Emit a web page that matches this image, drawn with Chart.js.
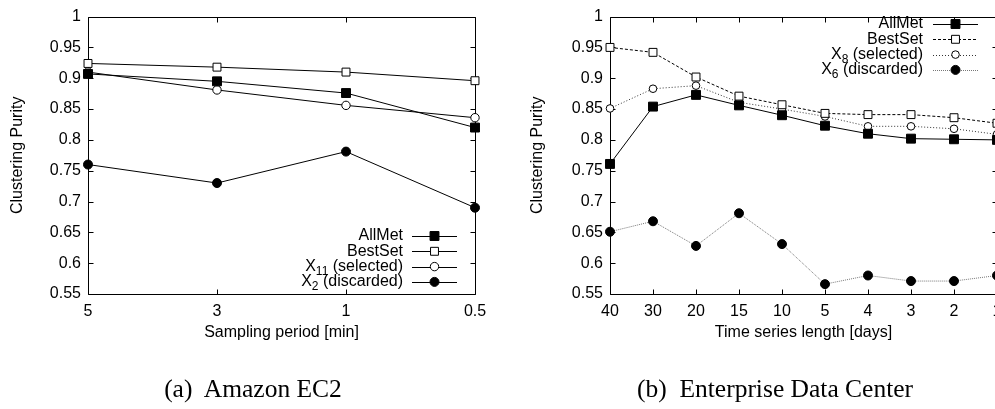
<!DOCTYPE html>
<html>
<head>
<meta charset="utf-8">
<script src="https://cdn.jsdelivr.net/npm/chart.js@4.4.1/dist/chart.umd.min.js"></script>
<style>
  html, body { margin: 0; padding: 0; background: #fff; width: 995px; height: 409px; overflow: hidden; }
  body { position: relative; }
  canvas { position: absolute; top: 0; }
  .cap { position: absolute; top: 376px; width: 400px; text-align: center; font: 25.5px/1 "Liberation Serif", "Times New Roman", serif; color: #000; }
</style>
</head>
<body>
<canvas id="ec2" width="495" height="409" style="left:0"></canvas>
<canvas id="edc" width="520" height="409" style="left:495px"></canvas>
<div class="cap" style="left:53px">(a)&nbsp; Amazon EC2</div>
<div class="cap" style="left:575px">(b)&nbsp; Enterprise Data Center</div>
<script>
  // (a) Amazon EC2
  const periodLabels = ['5', '3', '1', '0.5'];
  const ec2AllMet = [0.907, 0.895, 0.876, 0.820];
  const ec2BestSet = [0.924, 0.918, 0.910, 0.896];
  const ec2X11 = [0.910, 0.881, 0.856, 0.836];
  const ec2X2 = [0.760, 0.730, 0.781, 0.690];

  // (b) Enterprise Data Center
  const lengthLabels = ['40', '30', '20', '15', '10', '5', '4', '3', '2', '1'];
  const edcAllMet = [0.761, 0.854, 0.873, 0.856, 0.840, 0.823, 0.810, 0.802, 0.801, 0.800];
  const edcBestSet = [0.950, 0.942, 0.902, 0.871, 0.857, 0.843, 0.841, 0.841, 0.836, 0.827];
  const edcX8 = [0.851, 0.883, 0.888, 0.861, 0.850, 0.838, 0.822, 0.822, 0.818, 0.809];
  const edcX6 = [0.651, 0.668, 0.628, 0.681, 0.631, 0.566, 0.580, 0.571, 0.571, 0.580];

  const yTitle = 'Clustering Purity';

  const FONT = '"Liberation Sans", Arial, sans-serif';
  Chart.defaults.font.family = FONT;
  Chart.defaults.font.size = 16;
  Chart.defaults.color = '#000';

  // gnuplot style frame with inward ticks on all four sides
  const frame = {
    id: 'frame',
    beforeDatasetsDraw(chart) {
      const { ctx, chartArea: a, scales: { x, y } } = chart;
      ctx.save();
      ctx.strokeStyle = '#000';
      ctx.lineWidth = 1;
      ctx.beginPath();
      const L = Math.round(a.left) + 0.5, R = Math.round(a.right) + 0.5;
      const T = Math.round(a.top) + 0.5, B = Math.round(a.bottom) + 0.5;
      ctx.rect(L, T, R - L, B - T);
      y.ticks.forEach(t => {
        const py = Math.round(y.getPixelForValue(t.value)) + 0.5;
        ctx.moveTo(L, py); ctx.lineTo(L + 5, py);
        ctx.moveTo(R, py); ctx.lineTo(R - 5, py);
      });
      x.ticks.forEach((t, i) => {
        const px = Math.round(x.getPixelForTick(i)) + 0.5;
        ctx.moveTo(px, B); ctx.lineTo(px, B - 5);
        ctx.moveTo(px, T); ctx.lineTo(px, T + 5);
      });
      ctx.stroke();
      ctx.restore();
    }
  };

  function marker(ctx, ds, x, y) {
    ctx.setLineDash([]);
    ctx.lineWidth = 1;
    ctx.strokeStyle = ds.pointBorderColor;
    ctx.fillStyle = ds.pointBackgroundColor;
    ctx.beginPath();
    if (ds.pointStyle === 'rect') {
      const s = ds.pointRadius * Math.SQRT1_2;
      ctx.rect(x - s, y - s, 2 * s, 2 * s);
    } else {
      ctx.arc(x, y, ds.pointRadius, 0, Math.PI * 2);
    }
    ctx.fill();
    ctx.stroke();
  }

  // right aligned key with line sample, like gnuplot
  const key = {
    id: 'key',
    afterDraw(chart, args, o) {
      const ctx = chart.ctx;
      ctx.save();
      chart.data.datasets.forEach((ds, i) => {
        const y = o.y + i * o.dy;
        const [main, sub, rest] = ds.parts;
        ctx.textBaseline = 'middle';
        ctx.fillStyle = '#000';
        ctx.font = '16px ' + FONT;
        const wm = ctx.measureText(main).width;
        const wr = ctx.measureText(rest).width;
        ctx.font = '12px ' + FONT;
        const ws = sub ? ctx.measureText(sub).width : 0;
        let x = o.textRight - wm - ws - wr;
        ctx.font = '16px ' + FONT;
        ctx.fillText(main, x, y);
        x += wm;
        if (sub) {
          ctx.font = '12px ' + FONT;
          ctx.fillText(sub, x, y + 5);
          x += ws;
        }
        ctx.font = '16px ' + FONT;
        ctx.fillText(rest, x, y);
        ctx.strokeStyle = ds.borderColor;
        ctx.lineWidth = 1;
        ctx.setLineDash(ds.borderDash || []);
        ctx.beginPath();
        ctx.moveTo(o.lineFrom, Math.round(y) + 0.5);
        ctx.lineTo(o.lineTo, Math.round(y) + 0.5);
        ctx.stroke();
        marker(ctx, ds, (o.lineFrom + o.lineTo) / 2, y);
      });
      ctx.restore();
    }
  };

  function series(parts, data, style) {
    return Object.assign({
      parts: parts,
      label: parts.join(''),
      data: data,
      borderColor: '#000',
      borderWidth: 1,
      pointBorderWidth: 1,
      pointBorderColor: '#000',
      pointHoverRadius: 0,
      clip: false,
      tension: 0
    }, style);
  }

  const filledSquare = { pointStyle: 'rect', pointRadius: 6.3, pointBackgroundColor: '#000' };
  const openSquare = { pointStyle: 'rect', pointRadius: 5.6, pointBackgroundColor: '#fff' };
  const openCircle = { pointStyle: 'circle', pointRadius: 4.2, pointBackgroundColor: '#fff' };
  const filledCircle = { pointStyle: 'circle', pointRadius: 4.5, pointBackgroundColor: '#000' };

  function options(yWidth, titlePad, pad, xTitle, keyOpts) {
    return {
      responsive: false,
      animation: false,
      events: [],
      devicePixelRatio: 1,
      layout: { padding: pad },
      plugins: { legend: { display: false }, tooltip: { enabled: false }, key: keyOpts },
      scales: {
        x: {
          grid: { display: false, drawTicks: false },
          border: { display: false },
          ticks: { padding: 8, maxRotation: 0, autoSkip: false },
          title: { display: true, text: xTitle, padding: { top: 0, bottom: 2 } },
          afterFit: s => { s.height = 50; }
        },
        y: {
          min: 0.55,
          max: 1,
          grid: { display: false, drawTicks: false },
          border: { display: false },
          ticks: { stepSize: 0.05, padding: 7, callback: v => String(+v.toFixed(2)) },
          title: { display: true, text: yTitle, padding: { top: titlePad, bottom: 0 } },
          afterFit: s => { s.width = yWidth; }
        }
      }
    };
  }

  new Chart(document.getElementById('ec2'), {
    type: 'line',
    data: {
      labels: periodLabels,
      datasets: [
        series(['AllMet', '', ''], ec2AllMet, filledSquare),
        series(['BestSet', '', ''], ec2BestSet, openSquare),
        series(['X', '11', ' (selected)'], ec2X11, openCircle),
        series(['X', '2', ' (discarded)'], ec2X2, filledCircle)
      ]
    },
    options: options(88, 8, { left: 0, right: 20, top: 13, bottom: 65 }, 'Sampling period [min]',
      { textRight: 403, lineFrom: 412, lineTo: 457, y: 236, dy: 15.3 }),
    plugins: [frame, key]
  });

  new Chart(document.getElementById('edc'), {
    type: 'line',
    data: {
      labels: lengthLabels,
      datasets: [
        series(['AllMet', '', ''], edcAllMet, filledSquare),
        series(['BestSet', '', ''], edcBestSet, Object.assign({ borderDash: [3, 2] }, openSquare)),
        series(['X', '8', ' (selected)'], edcX8, Object.assign({ borderDash: [1, 2], borderColor: '#333' }, openCircle, { pointRadius: 3.8 })),
        series(['X', '6', ' (discarded)'], edcX6, Object.assign({ borderDash: [1, 1], borderColor: '#777' }, filledCircle))
      ]
    },
    options: options(115, 33, { left: 0, right: 18, top: 13, bottom: 65 }, 'Time series length [days]',
      { textRight: 428, lineFrom: 438, lineTo: 483, y: 24, dy: 15.3 }),
    plugins: [frame, key]
  });
</script>
</body>
</html>
